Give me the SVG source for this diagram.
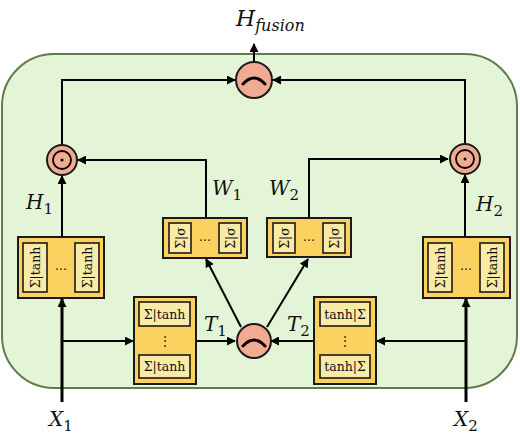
<svg xmlns="http://www.w3.org/2000/svg" width="520" height="441" viewBox="0 0 520 441">
<defs>
<style>
.bg{fill:#e3f5d6;stroke:#5f7d4a;stroke-width:2}
.ob{fill:#fbd160;stroke:#1a1a1a;stroke-width:2}
.ib{fill:#f9eaa6;stroke:#1a1a1a;stroke-width:1.6}
.op{fill:#f2aa92;stroke:#1a1a1a;stroke-width:2}
.ln{fill:none;stroke:#000;stroke-width:2}
.lx{fill:none;stroke:#000;stroke-width:3}
.bt{font-family:"DejaVu Serif","Liberation Serif",serif;font-size:12.5px;fill:#111}
.mt{font-family:"DejaVu Serif","Liberation Serif",serif;font-style:italic;font-size:20px;fill:#111}
.sb{font-family:"DejaVu Serif","Liberation Serif",serif;font-style:normal;font-size:15px;fill:#111}
.dt{font-family:"DejaVu Serif","Liberation Serif",serif;font-size:12px;fill:#111}
</style>
<marker id="ah" viewBox="0 0 10 10" refX="9" refY="5" markerWidth="9" markerHeight="9" markerUnits="userSpaceOnUse" orient="auto">
<path d="M0,0 L10,5 L0,10 z" fill="#000"/>
</marker>
</defs>
<rect x="0" y="0" width="520" height="441" fill="#ffffff"/>
<rect class="bg" x="2" y="54" width="515" height="334" rx="52" ry="52"/>

<g id="connectors">
<line class="ln" x1="254" y1="62" x2="254" y2="44" marker-end="url(#ah)"/>
<polyline class="ln" points="62,145 62,80 235,80" marker-end="url(#ah)"/>
<polyline class="ln" points="465,144 465,80 273,80" marker-end="url(#ah)"/>
<polyline class="ln" points="206,218 206,160 78,160" marker-end="url(#ah)"/>
<polyline class="ln" points="309,218 309,159 448,159" marker-end="url(#ah)"/>
<line class="ln" x1="62" y1="237" x2="62" y2="176" marker-end="url(#ah)"/>
<line class="ln" x1="465" y1="237" x2="465" y2="175" marker-end="url(#ah)"/>
<line class="lx" x1="62" y1="402" x2="62" y2="299" marker-end="url(#ah)"/>
<line class="ln" x1="62" y1="341" x2="133" y2="341" marker-end="url(#ah)"/>
<line class="lx" x1="466" y1="402" x2="466" y2="299" marker-end="url(#ah)"/>
<line class="ln" x1="466" y1="341" x2="377" y2="341" marker-end="url(#ah)"/>
<line class="ln" x1="196" y1="341" x2="235" y2="341" marker-end="url(#ah)"/>
<line class="ln" x1="314" y1="341" x2="271" y2="341" marker-end="url(#ah)"/>
<line class="ln" x1="241" y1="327" x2="206" y2="259" marker-end="url(#ah)"/>
<line class="ln" x1="267" y1="327" x2="308" y2="259" marker-end="url(#ah)"/>
</g>

<g id="fusion">
<circle class="op" cx="254" cy="80" r="18"/>
<path d="M243,84 Q254,72 265,84" fill="none" stroke="#000" stroke-width="3" stroke-linecap="round"/>
</g>
<g id="mult1">
<circle class="op" cx="62" cy="160" r="15"/>
<circle cx="62" cy="160" r="9" fill="none" stroke="#000" stroke-width="1.8"/>
<circle cx="62" cy="160" r="1.5" fill="#000"/>
</g>
<g id="mult2">
<circle class="op" cx="465" cy="159" r="15"/>
<circle cx="465" cy="159" r="9" fill="none" stroke="#000" stroke-width="1.8"/>
<circle cx="465" cy="159" r="1.5" fill="#000"/>
</g>
<g id="interact">
<circle class="op" cx="254" cy="341" r="17"/>
<path d="M243,346 Q254,334 265,346" fill="none" stroke="#000" stroke-width="3" stroke-linecap="round"/>
</g>

<g id="H1box">
<rect class="ob" x="18" y="237" width="86" height="61"/>
<rect class="ib" x="23" y="243" width="24" height="49"/>
<rect class="ib" x="75" y="243" width="24" height="49"/>
<text class="bt" transform="translate(39.5,267.5) rotate(-90)" text-anchor="middle">Σ|tanh</text>
<text class="bt" transform="translate(91.5,267.5) rotate(-90)" text-anchor="middle">Σ|tanh</text>
<text class="dt" x="61" y="270" text-anchor="middle">…</text>
</g>
<g id="H2box">
<rect class="ob" x="423" y="237" width="87" height="61"/>
<rect class="ib" x="428" y="243" width="24" height="49"/>
<rect class="ib" x="480" y="243" width="24" height="49"/>
<text class="bt" transform="translate(444.5,267.5) rotate(-90)" text-anchor="middle">Σ|tanh</text>
<text class="bt" transform="translate(496.5,267.5) rotate(-90)" text-anchor="middle">Σ|tanh</text>
<text class="dt" x="466" y="270" text-anchor="middle">…</text>
</g>
<g id="W1box">
<rect class="ob" x="163" y="218" width="84" height="40"/>
<rect class="ib" x="169" y="223" width="22" height="30"/>
<rect class="ib" x="219" y="223" width="22" height="30"/>
<text class="bt" transform="translate(184.5,238) rotate(-90)" text-anchor="middle">Σ|σ</text>
<text class="bt" transform="translate(234.5,238) rotate(-90)" text-anchor="middle">Σ|σ</text>
<text class="dt" x="205" y="241" text-anchor="middle">…</text>
</g>
<g id="W2box">
<rect class="ob" x="267" y="218" width="84" height="39"/>
<rect class="ib" x="273" y="223" width="22" height="30"/>
<rect class="ib" x="323" y="223" width="22" height="30"/>
<text class="bt" transform="translate(288.5,238) rotate(-90)" text-anchor="middle">Σ|σ</text>
<text class="bt" transform="translate(338.5,238) rotate(-90)" text-anchor="middle">Σ|σ</text>
<text class="dt" x="309" y="241" text-anchor="middle">…</text>
</g>
<g id="T1box">
<rect class="ob" x="134" y="297" width="62" height="87"/>
<rect class="ib" x="139" y="302" width="51" height="24"/>
<rect class="ib" x="139" y="355" width="51" height="23"/>
<text class="bt" x="164.5" y="318.5" text-anchor="middle">Σ|tanh</text>
<text class="bt" x="164.5" y="371" text-anchor="middle">Σ|tanh</text>
<text class="dt" x="165" y="345" text-anchor="middle">⋮</text>
</g>
<g id="T2box">
<rect class="ob" x="314" y="297" width="62" height="87"/>
<rect class="ib" x="320" y="302" width="50" height="24"/>
<rect class="ib" x="320" y="355" width="50" height="23"/>
<text class="bt" x="345" y="318.5" text-anchor="middle">tanh|Σ</text>
<text class="bt" x="345" y="371" text-anchor="middle">tanh|Σ</text>
<text class="dt" x="345" y="345" text-anchor="middle">⋮</text>
</g>

<g id="labels">
<text class="mt" x="236" y="26" style="font-size:22px">H<tspan style="font-size:16px" dy="5">fusion</tspan></text>
<text class="mt" x="26" y="209">H<tspan class="sb" dy="5">1</tspan></text>
<text class="mt" x="476" y="211">H<tspan class="sb" dy="5">2</tspan></text>
<text class="mt" x="212" y="195">W<tspan class="sb" dy="5">1</tspan></text>
<text class="mt" x="269" y="195">W<tspan class="sb" dy="5">2</tspan></text>
<text class="mt" x="204" y="331">T<tspan class="sb" dy="5">1</tspan></text>
<text class="mt" x="287" y="331">T<tspan class="sb" dy="5">2</tspan></text>
<text class="mt" x="49" y="426">X<tspan class="sb" dy="5">1</tspan></text>
<text class="mt" x="454" y="426">X<tspan class="sb" dy="5">2</tspan></text>
</g>
</svg>
